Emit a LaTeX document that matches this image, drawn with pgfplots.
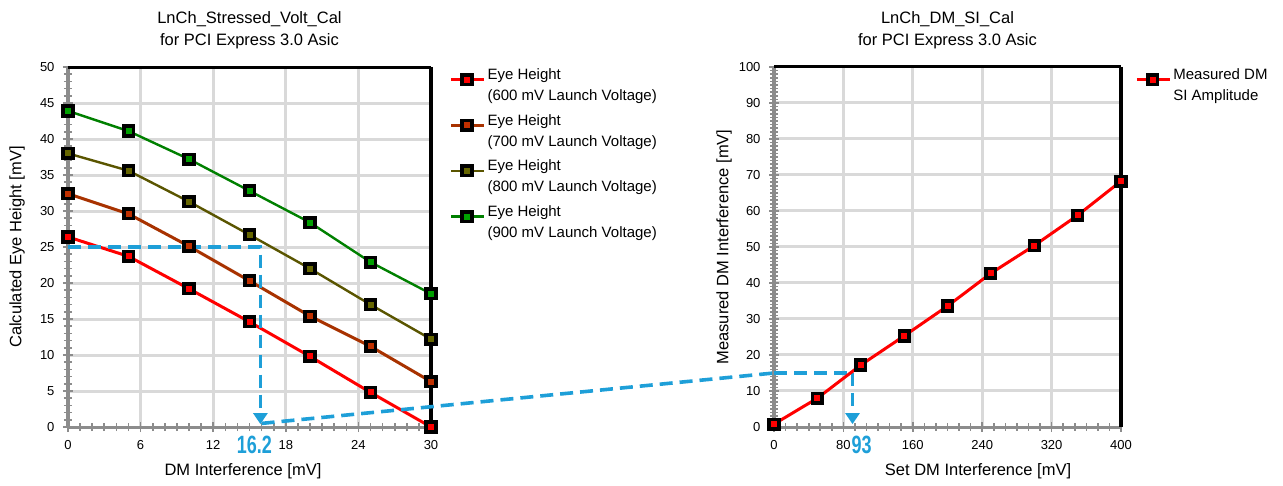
\documentclass[border=0pt]{standalone}
\usepackage{fontspec}
\setmainfont{Liberation Sans}
\newfontfamily\numfont[FakeStretch=0.72]{Liberation Sans}
\usepackage{pgfplots}
\pgfplotsset{compat=1.18}
\usetikzlibrary{arrows.meta}
\definecolor{cred}{HTML}{FF0000}
\definecolor{cbrown}{HTML}{A83200}
\definecolor{cbrowni}{HTML}{C03000}
\definecolor{colive}{HTML}{5A5500}
\definecolor{colivei}{HTML}{666600}
\definecolor{cgreen}{HTML}{008000}
\definecolor{cgreeni}{HTML}{00A000}
\definecolor{cblue}{HTML}{1E9FD8}
\definecolor{gridc}{HTML}{D9D9D9}
\definecolor{axgray}{HTML}{8C8C8C}
\tikzset{ann/.style={draw=cblue, line width=3.6pt, dash pattern=on 13pt off 7pt}}
\newcommand{\two}[2]{\vtop{\hbox{#1}\hbox{#2}}}
\pgfplotsset{
  common/.style={
    scale only axis, anchor=south west,
    height=360pt,
    axis line style={draw=none},
    tick pos=left,
    grid=major,
    major grid style={draw=gridc, line width=3pt},
    tick align=center, major tick length=10pt, minor tick length=8pt,
    tick style={draw=axgray, line width=1.6pt},
    tick label style={font=\fontsize{13}{15}\selectfont},
    xticklabel style={yshift=-5pt},
    yticklabel style={xshift=-5pt},
    /pgf/number format/assume math mode=true,
    label style={font=\fontsize{16.5}{19}\selectfont},
    title style={font=\fontsize{16.5}{22}\selectfont, align=center, anchor=center, at={(axis description cs:0.5,1.086)}},
    xlabel style={anchor=center},
    ylabel style={anchor=center},
    clip=false,
    legend cell align=left,
    legend style={draw=none, fill=none, font=\fontsize{15}{21}\selectfont, row sep=28pt, inner sep=2pt, nodes={anchor=base west}},
    legend image code/.code={\draw[mark repeat=2,mark phase=2,##1] plot coordinates {(0pt,0pt) (16pt,0pt) (33pt,0pt)};},
  },
  ser/.style 2 args={draw=#1, line width=3pt, mark=square*, mark size=4.8pt, mark options={fill=#2, draw=black, line width=3.6pt, solid}},
}
\begin{document}
\begin{tikzpicture}[x=1pt,y=1pt]
\useasboundingbox (0pt,0pt) rectangle (1283pt,485pt);
\begin{axis}[common, at={(68pt,58pt)}, width=363pt,
  xmin=0, xmax=30, ymin=0, ymax=50,
  xtick={0,6,...,30}, ytick={0,5,...,50},
  minor x tick num=5, minor y tick num=4,
  title={LnCh\_Stressed\_Volt\_Cal\\for PCI Express 3.0 Asic},
  xlabel={DM Interference [mV]}, xlabel style={at={(axis description cs:0.482,-0.1222)}},
  ylabel={Calculated Eye Height [mV]}, ylabel style={at={(axis description cs:-0.1405,0.5)}},
  legend style={at={(axis description cs:1.045,1.007)}, anchor=north west},
]
\draw[axgray, line width=4pt] (rel axis cs:0,1) -- (rel axis cs:0,0);
\draw[axgray, line width=3pt] (rel axis cs:0,0) -- (rel axis cs:1,0);
\draw[black, line width=3pt] (rel axis cs:0,1) -- (rel axis cs:1,1);
\draw[black, line width=3.5pt] (rel axis cs:1,1) -- (rel axis cs:1,0);
\addplot[ser={cred}{cred}] coordinates {(0,26.4) (5,23.7) (10,19.2) (15,14.6) (20,9.8) (25,4.8) (30,0)};
\addlegendentry{\two{Eye Height}{(600 mV Launch Voltage)}}
\addplot[ser={cbrown}{cbrowni}] coordinates {(0,32.4) (5,29.6) (10,25.1) (15,20.3) (20,15.4) (25,11.2) (30,6.3)};
\addlegendentry{\two{Eye Height}{(700 mV Launch Voltage)}}
\addplot[ser={colive}{colivei}, line width=2.4pt] coordinates {(0,38.0) (5,35.6) (10,31.3) (15,26.7) (20,22.0) (25,17.0) (30,12.2)};
\addlegendentry{\two{Eye Height}{(800 mV Launch Voltage)}}
\addplot[ser={cgreen}{cgreeni}, line width=2.4pt] coordinates {(0,43.9) (5,41.1) (10,37.2) (15,32.8) (20,28.4) (25,22.9) (30,18.5)};
\addlegendentry{\two{Eye Height}{(900 mV Launch Voltage)}}
\draw[ann, -{Triangle[width=14pt,length=11pt]}] (axis cs:0,25) -- (axis cs:15.9,25) -- (axis cs:15.9,0.4);
\coordinate (L) at (axis cs:16.0,0.5);
\node[text=cblue, font=\numfont\bfseries\fontsize{25}{27}\selectfont, anchor=center] at (axis cs:15.4,0) [yshift=-18pt] {16.2};
\end{axis}
\begin{axis}[common, at={(774pt,58pt)}, width=347pt,
  xmin=0, xmax=400, ymin=0, ymax=100,
  xtick={0,80,...,400}, ytick={0,10,...,100},
  minor x tick num=5, minor y tick num=9,
  title={LnCh\_DM\_SI\_Cal\\for PCI Express 3.0 Asic},
  xlabel={Set DM Interference [mV]}, xlabel style={at={(axis description cs:0.588,-0.1222)}},
  ylabel={Measured DM Interference [mV]}, ylabel style={at={(axis description cs:-0.144,0.5)}},
  legend style={at={(axis description cs:1.035,1.007)}, anchor=north west},
]
\draw[axgray, line width=4pt] (rel axis cs:0,1) -- (rel axis cs:0,0);
\draw[axgray, line width=3pt] (rel axis cs:0,0) -- (rel axis cs:1,0);
\draw[black, line width=3pt] (rel axis cs:0,1) -- (rel axis cs:1,1);
\draw[black, line width=3.5pt] (rel axis cs:1,1) -- (rel axis cs:1,0);
\draw[ann] (axis cs:0,15) -- (axis cs:90.5,15);
\draw[ann, -{Triangle[width=14pt,length=11pt]}] (axis cs:90.5,15) -- (axis cs:90.5,0.8);
\addplot[ser={cred}{cred}] coordinates {(0,0.8) (50,8.0) (100,17.2) (150,25.3) (200,33.6) (250,42.7) (300,50.4) (350,58.8) (400,68.3)};
\addlegendentry{\two{Measured DM}{SI Amplitude}}
\coordinate (R) at (axis cs:0,15);
\node[text=cblue, font=\numfont\bfseries\fontsize{25}{27}\selectfont, anchor=center] at (axis cs:101,0) [yshift=-18pt] {93};
\end{axis}
\draw[ann] (L) -- (R);
\end{tikzpicture}
\end{document}
